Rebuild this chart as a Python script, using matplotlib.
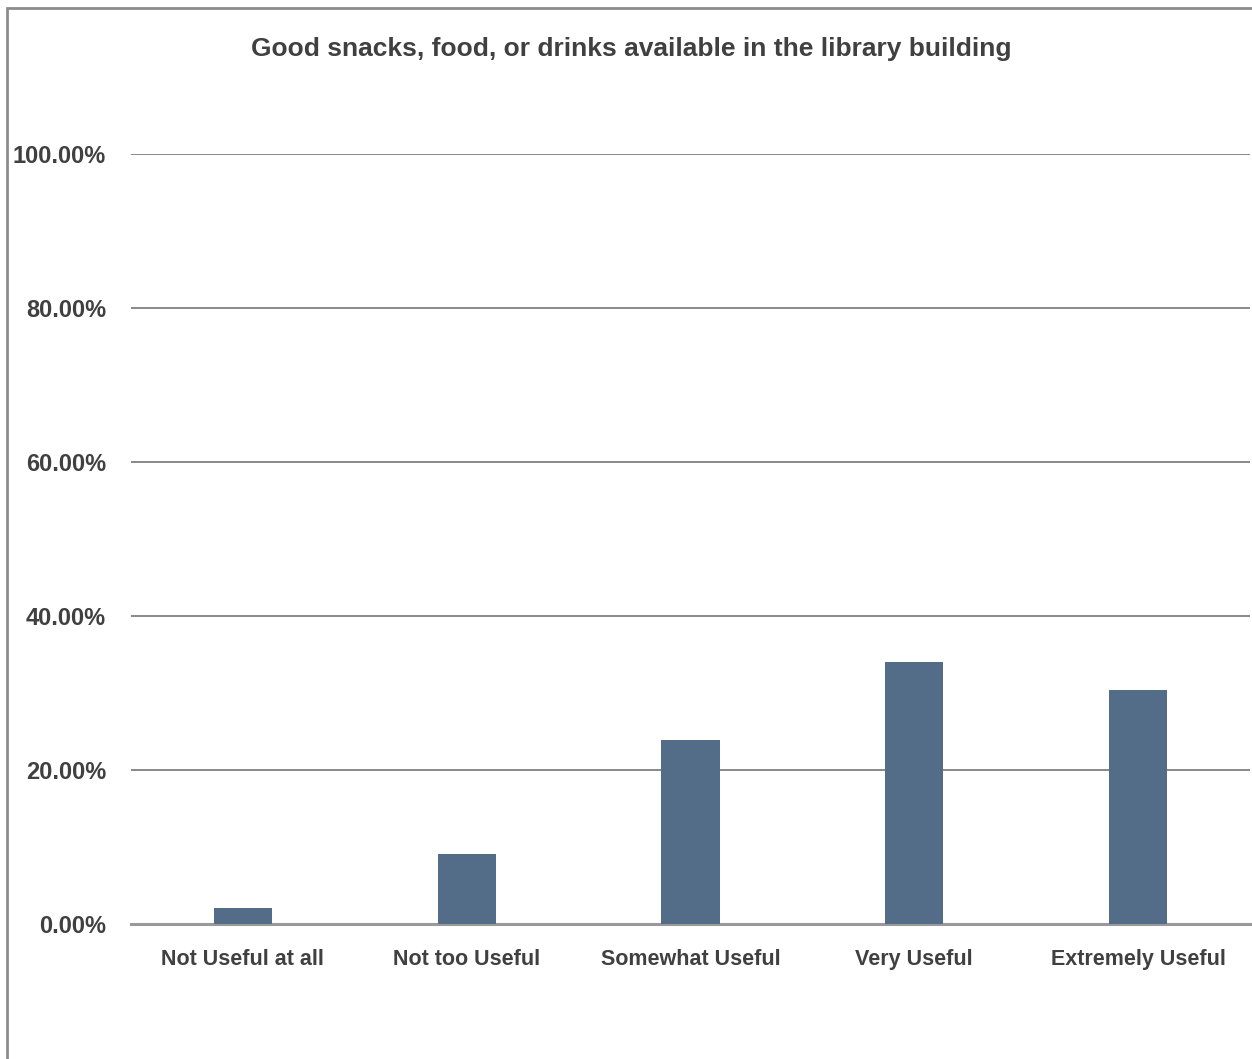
import matplotlib
matplotlib.use("Agg")
import matplotlib.pyplot as plt
from matplotlib.patches import Rectangle

categories = ["Not Useful at all", "Not too Useful", "Somewhat Useful",
              "Very Useful", "Extremely Useful"]
values = [2.08, 9.09, 23.90, 34.03, 30.39]
yticks = [0, 20, 40, 60, 80, 100]
ytick_labels = [f"{v:.2f}%" for v in yticks]
title = "Good snacks, food, or drinks available in the library building"

BAR = "#536d89"
TEXT = "#404040"
FONT = ["Liberation Sans", "DejaVu Sans"]

fig = plt.figure(figsize=(12.52, 10.59), dpi=100)
fig.patches.append(Rectangle((7 / 1252, -0.1), 1.2, 1 - 8 / 1059 + 0.1,
                             transform=fig.transFigure, fill=False,
                             edgecolor="#8c8c8c", lw=2))

ax = fig.add_axes([131 / 1252, 135 / 1059, 1119 / 1252, 770 / 1059])
x = list(range(len(categories)))
ax.bar(x, values, width=0.26, color=BAR, zorder=3)
ax.set_xlim(-0.5, len(categories) - 0.5)
ax.set_ylim(0, 100)
ax.set_yticks(yticks)
ax.set_yticklabels(ytick_labels)
ax.set_xticks(x)
ax.set_xticklabels(categories)
for lab in ax.get_yticklabels():
    lab.set_family(FONT)
    lab.set_fontweight("bold")
    lab.set_color(TEXT)
    lab.set_fontsize(17)
for lab in ax.get_xticklabels():
    lab.set_family(FONT)
    lab.set_fontweight("bold")
    lab.set_color(TEXT)
    lab.set_fontsize(15.5)
ax.tick_params(axis="both", length=0)
ax.tick_params(axis="y", pad=18)
ax.tick_params(axis="x", pad=18)
for y in yticks[1:]:
    ax.axhline(y, color="#7f7f7f", lw=1.3, zorder=1)
for s in ["top", "right", "left"]:
    ax.spines[s].set_visible(False)
ax.spines["bottom"].set_color("#999999")
ax.spines["bottom"].set_linewidth(2.2)
ax.set_facecolor("none")

fig.text(631 / 1252, 1 - 49 / 1059, title, ha="center", va="center",
         family=FONT, fontweight="bold", fontsize=19, color=TEXT)

fig.savefig("out.png", dpi=100)
